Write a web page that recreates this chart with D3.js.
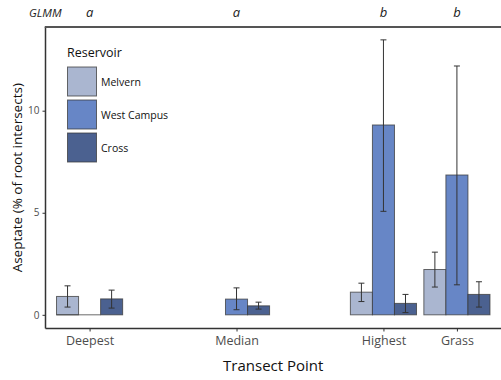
<!DOCTYPE html>
<html>
<head>
<meta charset="utf-8">
<script src="https://cdn.jsdelivr.net/npm/d3@7/dist/d3.min.js"></script>
<style>
  body { margin: 0; background: #fff; }
  text { font-family: "Open Sans", "DejaVu Sans", sans-serif; }
</style>
</head>
<body>
<svg id="chart" width="501" height="380"></svg>
<script>
// transect points and their position on the x axis
var points = ["Deepest", "Median", "Highest", "Grass"];
var pointPos = [1, 3, 5, 6];
var glmm = ["a", "a", "b", "b"];
var reservoirs = ["Melvern", "West Campus", "Cross"];
var colors = ["#aab6d0", "#6786c6", "#4b6190"];

// mean values, one array per reservoir (order = points)
var melvern = [0.9, 0, 1.11, 2.22];
var westCampus = [0, 0.77, 9.3, 6.85];
var cross = [0.78, 0.44, 0.56, 1.0];
// error bar lows/highs
var melvernLo = [0.38, 0, 0.65, 1.36];
var melvernHi = [1.42, 0, 1.55, 3.07];
var westLo = [0, 0.25, 5.07, 1.47];
var westHi = [0, 1.32, 13.47, 12.19];
var crossLo = [0.33, 0.28, 0.11, 0.38];
var crossHi = [1.21, 0.62, 1.0, 1.62];

var yTicks = [0, 5, 10];

var svg = d3.select("#chart");
var pLeft = 45.5, pRight = 501, pTop = 27, pBottom = 328.5;

var x = d3.scaleLinear().domain([0.4, 6.6]).range([pLeft, pRight]);
var y = d3.scaleLinear().domain([-0.67, 14.1]).range([pBottom, pTop]);

var series = [
    {name: reservoirs[0], vals: melvern, lo: melvernLo, hi: melvernHi},
    {name: reservoirs[1], vals: westCampus, lo: westLo, hi: westHi},
    {name: reservoirs[2], vals: cross, lo: crossLo, hi: crossHi}
];
var barW = 0.3;

// bars
series.forEach(function(s, si){
    var g = svg.append("g");
    var bx = function(d, i){ return x(pointPos[i] + (si - 1.5) * barW); };
    g.selectAll("rect")
        .data(s.vals)
        .enter()
        .append("rect")
        .attr("x", bx)
        .attr("width", x(barW) - x(0))
        .attr("y", function(d){ return y(d); })
        .attr("height", function(d){ return y(0) - y(d); })
        .attr("fill", colors[si])
        .attr("stroke", "#3a3a3a")
        .attr("stroke-opacity", 0.75)
        .attr("stroke-width", 1);

    // zero-height bars still show their outline as a flat line
    g.selectAll("line.zero")
        .data(s.vals)
        .enter()
        .filter(function(d){ return d === 0; })
        .append("line")
        .attr("class", "zero")
        .attr("x1", bx)
        .attr("x2", function(d, i){ return bx(d, i) + x(barW) - x(0); })
        .attr("y1", y(0)).attr("y2", y(0))
        .attr("stroke", "#3a3a3a").attr("stroke-opacity", 0.75);

    // error bars
    s.vals.forEach(function(d, i){
        if (s.hi[i] <= 0) return;
        var cx = x(pointPos[i] + (si - 1) * barW);
        g.append("line")
            .attr("x1", cx).attr("x2", cx)
            .attr("y1", y(s.lo[i])).attr("y2", y(s.hi[i]))
            .attr("stroke", "#333").attr("stroke-width", 1);
        [s.lo[i], s.hi[i]].forEach(function(v){
            g.append("line")
                .attr("x1", cx - 3).attr("x2", cx + 3)
                .attr("y1", y(v)).attr("y2", y(v))
                .attr("stroke", "#333").attr("stroke-width", 1);
        });
    });
});

// axes
var yAxis = d3.axisLeft(y).tickValues(yTicks).tickSize(3).tickPadding(3);
var gy = svg.append("g").attr("transform", "translate(" + pLeft + ",0)").call(yAxis);
var xAxis = d3.axisBottom(x).tickValues(pointPos).tickSize(3).tickPadding(5)
    .tickFormat(function(d, i){ return points[i]; });
var gx = svg.append("g").attr("transform", "translate(0," + pBottom + ")").call(xAxis);

[gx, gy].forEach(function(g){
    g.select(".domain").remove();
    g.selectAll(".tick line").attr("stroke", "#333");
    g.selectAll(".tick text").attr("fill", "#4d4d4d")
        .style("font-family", "'Open Sans', sans-serif");
});
gy.selectAll(".tick text").style("font-size", "10px");
gx.selectAll(".tick text").style("font-size", "12.5px");

// panel lines
svg.append("line").attr("x1", pLeft).attr("x2", pLeft).attr("y1", pTop).attr("y2", pBottom)
    .attr("stroke", "#333").attr("stroke-width", 1.5);
svg.append("line").attr("x1", pLeft).attr("x2", pRight).attr("y1", pBottom).attr("y2", pBottom)
    .attr("stroke", "#333").attr("stroke-width", 1.5);
svg.append("line").attr("x1", pLeft - 0.75).attr("x2", pRight).attr("y1", pTop).attr("y2", pTop)
    .attr("stroke", "#555").attr("stroke-width", 2);

// GLMM letters
svg.append("text").attr("x", 29).attr("y", 17).text("GLMM")
    .style("font-size", "11.5px").style("font-style", "italic").attr("fill", "#222");
svg.selectAll(".glmm")
    .data(glmm)
    .enter()
    .append("text")
    .attr("class", "glmm")
    .attr("x", function(d, i){ return x(pointPos[i]); })
    .attr("y", 17)
    .attr("text-anchor", "middle")
    .style("font-size", "13px").style("font-style", "italic").attr("fill", "#222")
    .text(function(d){ return d; });

// axis titles
svg.append("text").attr("x", (pLeft + pRight) / 2).attr("y", 371)
    .attr("text-anchor", "middle").style("font-size", "15px").attr("fill", "#111")
    .text("Transect Point");
svg.append("text").attr("transform", "translate(22," + ((pTop + pBottom) / 2) + ") rotate(-90)")
    .attr("text-anchor", "middle").style("font-size", "13.5px").attr("fill", "#111")
    .text("Aseptate (% of root intersects)");

// legend
var lg = svg.append("g").attr("transform", "translate(67,0)");
lg.append("text").attr("x", 0).attr("y", 57).text("Reservoir")
    .style("font-size", "12.5px").attr("fill", "#111");
reservoirs.forEach(function(r, i){
    var ky = 67 + i * 33;
    lg.append("rect").attr("x", 0.5).attr("y", ky).attr("width", 29).attr("height", 29)
        .attr("fill", colors[i]).attr("stroke", "#3a3a3a").attr("stroke-opacity", 0.75);
    lg.append("text").attr("x", 34).attr("y", ky + 18.5).text(r)
        .style("font-size", "10.5px").attr("fill", "#111");
});
</script>
</body>
</html>
